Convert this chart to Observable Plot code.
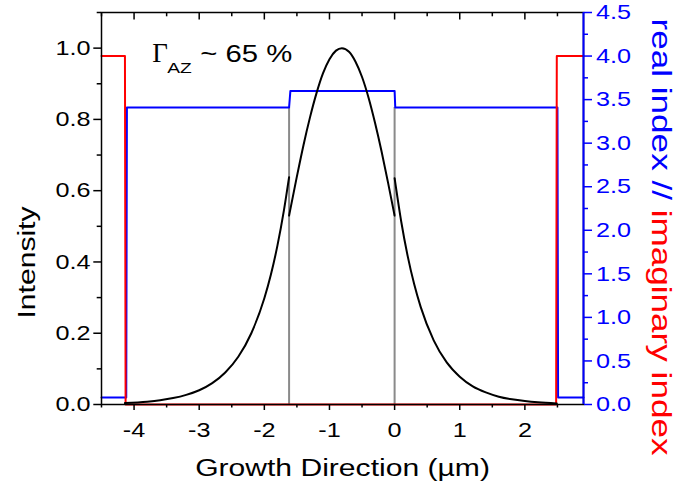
<!DOCTYPE html>
<html><head><meta charset="utf-8">
<script src="https://cdn.jsdelivr.net/npm/d3@7"></script>
<script src="https://cdn.jsdelivr.net/npm/@observablehq/plot@0.6"></script>
<style>body{margin:0;background:#fff}</style>
</head><body><div id="chart"></div>
<script>
// ---- data ----
const xDomain = [-4.5, 2.9];
const yDomain = [0, 1.1];
const rightMax = 4.5;
const xMajor = [-4, -3, -2, -1, 0, 1, 2];
const xMinor = [-4.5, -3.5, -2.5, -1.5, -0.5, 0.5, 1.5, 2.5];
const yMajor = [0, 0.2, 0.4, 0.6, 0.8, 1.0];
const yMinor = [0.1, 0.3, 0.5, 0.7, 0.9, 1.1];
const rMajor = [0, 0.5, 1.0, 1.5, 2.0, 2.5, 3.0, 3.5, 4.0, 4.5];
const rMinor = [0.25, 0.75, 1.25, 1.75, 2.25, 2.75, 3.25, 3.75, 4.25];

// real index (blue)
const realX = [-4.5, -4.12, -4.11, -1.62, -1.60, 0.0, 0.01, 2.50, 2.51, 2.9];
const realV = [0.08, 0.08, 3.41, 3.41, 3.60, 3.60, 3.41, 3.41, 0.08, 0.08];
// imaginary index (red)
const imagX = [-4.5, -4.14, -4.13, 2.48, 2.49, 2.9];
const imagV = [4.0, 4.0, 0.0, 0.0, 4.0, 4.0];
// boundaries (grey)
const boundX = [-1.62, 0.0];
const boundTop = 3.41;

// intensity (black), three segments
const leftX = [-4.14, -3.8, -3.6, -3.4, -3.2, -3.0, -2.8, -2.6, -2.4, -2.2, -2.0, -1.9, -1.8, -1.7, -1.62];
const leftI = [0.004, 0.008, 0.012, 0.018, 0.027, 0.040, 0.060, 0.090, 0.134, 0.200, 0.298, 0.364, 0.445, 0.544, 0.638];
const coreX = [-1.62, -1.5, -1.4, -1.3, -1.2, -1.1, -1.0, -0.9, -0.81, -0.7, -0.6, -0.5, -0.4, -0.3, -0.2, -0.1, 0.0];
const coreI = [0.530, 0.640, 0.727, 0.805, 0.873, 0.929, 0.969, 0.993, 1.000, 0.990, 0.962, 0.919, 0.861, 0.790, 0.710, 0.622, 0.530];
const rightX = [0.0, 0.1, 0.2, 0.3, 0.4, 0.6, 0.8, 1.0, 1.2, 1.4, 1.6, 1.8, 2.0, 2.2, 2.49];
const rightI = [0.635, 0.515, 0.417, 0.338, 0.274, 0.180, 0.118, 0.078, 0.051, 0.034, 0.022, 0.0145, 0.0095, 0.006, 0.003];

const annotPos = {x: -3.72, y: 0.984};
const xTitle = "Growth Direction (\u00b5m)";
const yTitle = "Intensity";
const rTitleA = "real index // ";
const rTitleB = "imaginary index";

// ---- build ----
const f = yDomain[1] / rightMax;
const realData = realX.map((x, i) => ({x, y: realV[i] * f}));
const imagData = imagX.map((x, i) => ({x, y: imagV[i] * f}));
const curveData = [
  ...leftX.map((x, i) => ({x, y: leftI[i], s: "L"})),
  ...coreX.map((x, i) => ({x, y: coreI[i], s: "C"})),
  ...rightX.map((x, i) => ({x, y: rightI[i], s: "R"}))
];

const W = 675, H = 493, mT = 12, mB = 89, mL = 101, mR = 92;
const innerH = H - mT - mB;
const font = "Liberation Sans, Arial, Helvetica, sans-serif";
const tickFS = 21;
const titleFS = 23.5;

const chart = Plot.plot({
  width: W, height: H,
  marginTop: mT, marginBottom: mB, marginLeft: mL, marginRight: mR,
  style: {fontFamily: font, fontSize: "21px", background: "#fff", overflow: "visible"},
  x: {domain: xDomain},
  y: {domain: yDomain},
  marks: [
    Plot.ruleX(boundX, {x: d => d, y1: 0, y2: boundTop * f, stroke: "#8a8a8a", strokeWidth: 2}),
    Plot.line(realData, {x: "x", y: "y", stroke: "#0000ff", strokeWidth: 2}),
    Plot.line(imagData, {x: "x", y: "y", stroke: "#ff0000", strokeWidth: 2}),
    Plot.line(curveData, {x: "x", y: "y", z: "s", stroke: "black", strokeWidth: 2, curve: "monotone-x"}),
    Plot.frame({stroke: "black", strokeWidth: 1.5}),
    Plot.ruleX([xDomain[1]], {stroke: "#0000ff", strokeWidth: 2}),
    // bottom axis
    Plot.axisX(xMajor, {anchor: "bottom", label: null, tickSize: 6, tickPadding: 11.5, fontSize: tickFS, tickFormat: d => String(d), strokeWidth: 1.5}),
    Plot.axisX(xMinor, {anchor: "bottom", label: null, tickSize: 3.5, tickFormat: () => "", strokeWidth: 1.5}),
    // top inward ticks
    Plot.ruleX(xMajor, {x: d => d, insetBottom: innerH - 7.5, stroke: "black", strokeWidth: 1.5}),
    Plot.ruleX(xMinor, {x: d => d, insetBottom: innerH - 4.3, stroke: "black", strokeWidth: 1.5}),
    // left axis
    Plot.axisY(yMajor, {anchor: "left", label: null, tickSize: 7.7, tickPadding: 3.3, fontSize: tickFS, tickFormat: d => d.toFixed(1), strokeWidth: 1.5}),
    Plot.axisY(yMinor, {anchor: "left", label: null, tickSize: 4.3, tickFormat: () => "", strokeWidth: 1.5}),
    // right axis
    Plot.axisY(rMajor.map(v => v * f), {anchor: "right", label: null, tickSize: 8, tickPadding: 4.5, fontSize: tickFS, color: "#0000ff", strokeWidth: 1.5,
      tickFormat: d => (Math.round(d / f * 100) / 100).toFixed(1)}),
    Plot.axisY(rMinor.map(v => v * f), {anchor: "right", label: null, tickSize: 4, color: "#0000ff", tickFormat: () => "", strokeWidth: 1.5}),
    // titles
    Plot.text([xTitle], {frameAnchor: "bottom", text: d => d, dy: 64, fontSize: titleFS, textAnchor: "middle", lineAnchor: "middle", fill: "black"}),
    Plot.text([yTitle], {frameAnchor: "left", text: d => d, dx: -74, dy: 54, rotate: -90, fontSize: titleFS, textAnchor: "middle", lineAnchor: "middle", fill: "black"}),
    Plot.text([rTitleA + rTitleB], {frameAnchor: "right", text: d => d, dx: 77, dy: 28.5, rotate: 90, fontSize: 27, textAnchor: "middle", lineAnchor: "middle", fill: "#ff0000"}),
    // annotation
    Plot.text([annotPos], {x: "x", y: "y", text: () => "\u0393", textAnchor: "start", lineAnchor: "middle", fontSize: 27, fontFamily: "Liberation Serif, Times New Roman, serif", fill: "black"}),
    Plot.text([annotPos], {x: "x", y: "y", text: () => "AZ", textAnchor: "start", lineAnchor: "middle", fontSize: 15, dx: 15, dy: 14, fill: "black"}),
    Plot.text([annotPos], {x: "x", y: "y", text: () => "~ 65 %", textAnchor: "start", lineAnchor: "middle", fontSize: 24, dx: 48, fill: "black"})
  ]
});

// colour the two parts of the right title
const ns = "http://www.w3.org/2000/svg";
chart.querySelectorAll("text").forEach(t => {
  if (t.textContent === rTitleA + rTitleB) {
    t.textContent = "";
    const a = document.createElementNS(ns, "tspan");
    a.setAttribute("fill", "#0000ff"); a.textContent = rTitleA;
    const b = document.createElementNS(ns, "tspan");
    b.setAttribute("fill", "#ff0000"); b.textContent = rTitleB;
    t.appendChild(a); t.appendChild(b);
    t.setAttribute("xml:space", "preserve");
    t.style.whiteSpace = "pre";
  }
});
document.getElementById("chart").appendChild(chart);

// the reference's lettering is drawn wider than the font's natural width
chart.querySelectorAll("text").forEach(t => {
  const s = t.textContent;
  if (!s || s === "\u0393") return;
  const len = t.getComputedTextLength();
  if (!len) return;
  const k = /^-?[0-9.]+$/.test(s) ? 1.2 : (s === "~ 65 %" ? 1.22 : (s === rTitleA + rTitleB ? 1.3 : 1.28));
  t.setAttribute("textLength", (len * k).toFixed(2));
  t.setAttribute("lengthAdjust", "spacingAndGlyphs");
});
</script>
</body></html>
